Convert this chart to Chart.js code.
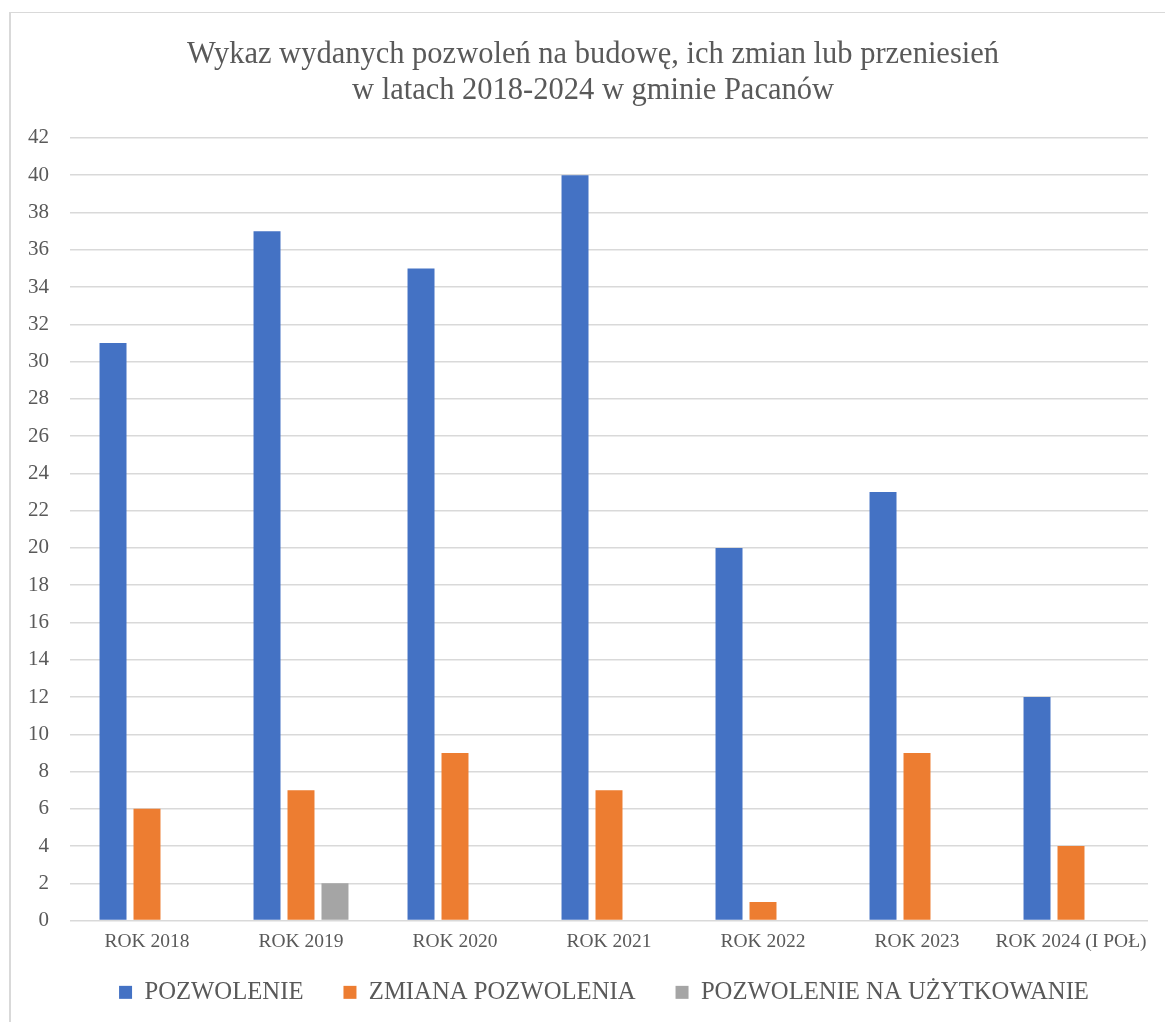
<!DOCTYPE html>
<html lang="pl">
<head>
<meta charset="utf-8">
<title>Pozwolenia na budowę – Pacanów</title>
<script src="https://cdn.jsdelivr.net/npm/chart.js@4.4.1/dist/chart.umd.min.js"></script>
<style>
  html, body { margin: 0; padding: 0; background: #ffffff; }
  #wrap { position: relative; width: 1165px; height: 1022px; overflow: hidden; }
  #frame {
    position: absolute; left: 9px; top: 12px; right: -4px; bottom: -4px;
    border-top: 1px solid #d9d9d9; border-left: 2px solid #d9d9d9;
  }
  canvas { position: absolute; left: 0; top: 0; }
</style>
</head>
<body>
<div id="wrap">
  <div id="frame"></div>
  <canvas id="chart" width="1165" height="1022"></canvas>
</div>
<script>
const categories = ['ROK 2018', 'ROK 2019', 'ROK 2020', 'ROK 2021', 'ROK 2022', 'ROK 2023', 'ROK 2024 (I POŁ)'];
const pozwolenie = [31, 37, 35, 40, 20, 23, 12];
const zmianaPozwolenia = [6, 7, 9, 7, 1, 9, 4];
const pozwolenieNaUzytkowanie = [0, 2, 0, 0, 0, 0, 0];
const seriesNames = ['POZWOLENIE', 'ZMIANA POZWOLENIA', 'POZWOLENIE NA UŻYTKOWANIE'];
const titleLines = ['Wykaz wydanych pozwoleń na budowę, ich zmian lub przeniesień', 'w latach 2018-2024 w gminie Pacanów'];

const FONT = '"Liberation Serif", "Times New Roman", serif';
const TEXT = '#595959';
const GRID = '#d9d9d9';

// Centre the title and legend over the plot area and lift the legend row a little.
const blockOffsets = {
  id: 'blockOffsets',
  afterLayout(chart) {
    const mid = (chart.chartArea.left + chart.chartArea.right) / 2;
    const lg = chart.legend;
    if (lg) {
      const dx = mid - (lg.left + lg.right) / 2 - 5;
      lg.left += dx; lg.right += dx;
      lg.top -= 24;
      lg.bottom = chart.height;
      lg.height = lg.bottom - lg.top;
    }
    const tb = chart.titleBlock;
    if (tb) {
      const dx = mid - (tb.left + tb.right) / 2 - 16;
      tb.left += dx; tb.right += dx;
    }
  }
};

new Chart(document.getElementById('chart'), {
  type: 'bar',
  data: {
    labels: categories,
    datasets: [
      { label: seriesNames[0], data: pozwolenie, backgroundColor: '#4472C4' },
      { label: seriesNames[1], data: zmianaPozwolenia, backgroundColor: '#ED7D31' },
      { label: seriesNames[2], data: pozwolenieNaUzytkowanie, backgroundColor: '#A5A5A5' }
    ]
  },
  plugins: [blockOffsets],
  options: {
    responsive: false,
    animation: false,
    devicePixelRatio: 1,
    categoryPercentage: 0.662,
    barPercentage: 0.794,
    layout: { padding: { left: 0, right: 17, top: 0, bottom: 8 } },
    plugins: {
      title: {
        display: true,
        text: titleLines,
        color: TEXT,
        font: { family: FONT, size: 30.5, weight: 'normal', lineHeight: 1.18 },
        padding: { top: 37, bottom: 29 }
      },
      legend: {
        position: 'bottom',
        maxHeight: 50,
        labels: {
          color: TEXT,
          font: { family: FONT, size: 24.7 },
          boxWidth: 13,
          boxHeight: 13,
          padding: 40
        }
      },
      tooltip: { enabled: false }
    },
    scales: {
      x: {
        grid: { display: false, drawTicks: false },
        border: { display: false },
        ticks: { color: TEXT, font: { family: FONT, size: 19.5 }, padding: 10, maxRotation: 0, autoSkip: false }
      },
      y: {
        min: 0,
        max: 42,
        afterFit: (scale) => { scale.width = 70; },
        grid: { color: GRID, lineWidth: 1.5, drawTicks: false },
        border: { display: false },
        ticks: { stepSize: 2, color: TEXT, font: { family: FONT, size: 21 }, padding: 21 }
      }
    }
  }
});
</script>
</body>
</html>
